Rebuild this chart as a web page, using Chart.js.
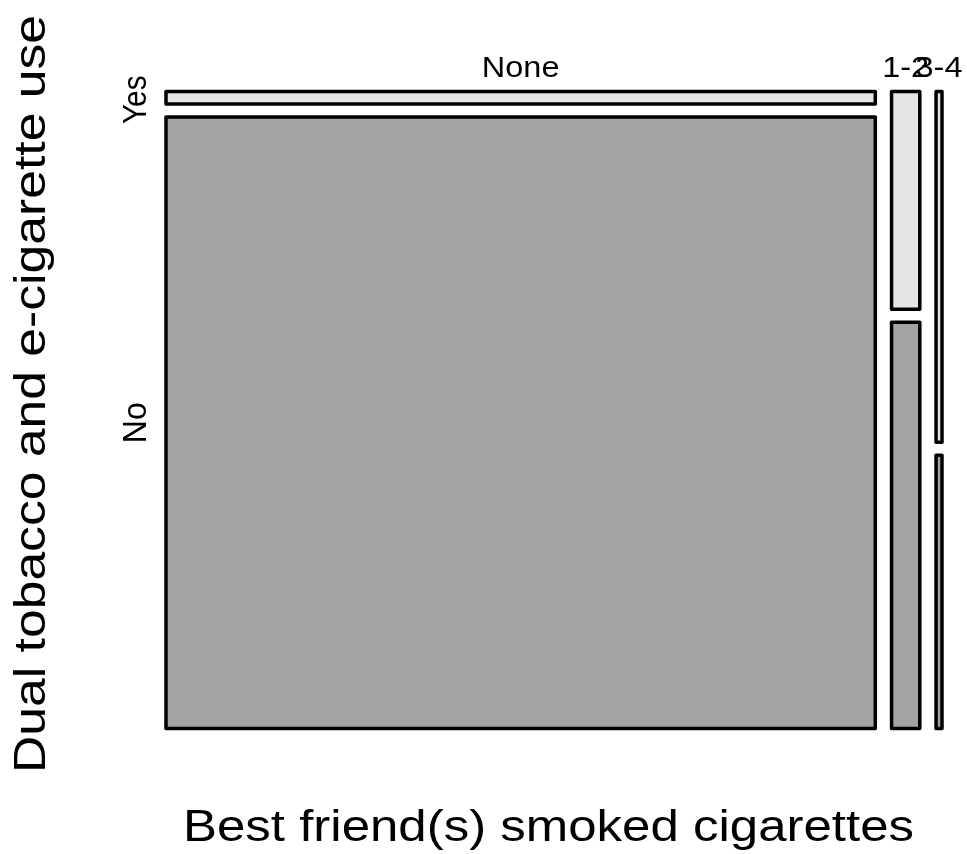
<!DOCTYPE html>
<html>
<head>
<meta charset="utf-8">
<script src="https://cdn.jsdelivr.net/npm/chart.js@4"></script>
<style>
  body { margin: 0; background: #fff; }
  canvas { display: block; }
</style>
</head>
<body>
<canvas id="mosaic" width="967" height="854"></canvas>
<script>
// mosaic data
const friendLevels = ["None", "1-2", "3-4"];
const useLevels = ["Yes", "No"];
const columnShare = [0.954, 0.038, 0.008];
const yesShare = [0.020, 0.349, 0.562];
const noShare = [0.980, 0.651, 0.438];

const xTitle = "Best friend(s) smoked cigarettes";
const yTitle = "Dual tobacco and e-cigarette use";

const gapX = 16.25 / 776;
const gapY = 13 / 637;
const fillColors = { Yes: "#e5e5e5", No: "#a3a3a3" };

function rectPoints(x0, x1, y0, y1) {
    return [
        { x: x0, y: y0 },
        { x: x1, y: y0 },
        { x: x1, y: y1 },
        { x: x0, y: y1 },
        { x: x0, y: y0 },
    ];
}

var columns = [];
var datasets = [];
var xStart = 0;
for (let i = 0; i < friendLevels.length; i++) {
    const w = columnShare[i] * (1 - 2 * gapX);
    const x0 = xStart;
    const x1 = xStart + w;
    columns.push({ x0: x0, x1: x1 });
    xStart = x1 + gapX;

    const yesTop = 1;
    const yesBottom = 1 - yesShare[i] * (1 - gapY);
    const noTop = noShare[i] * (1 - gapY);

    datasets.push({
        label: friendLevels[i] + " / Yes",
        data: rectPoints(x0, x1, yesBottom, yesTop),
        backgroundColor: fillColors.Yes,
    });
    datasets.push({
        label: friendLevels[i] + " / No",
        data: rectPoints(x0, x1, 0, noTop),
        backgroundColor: fillColors.No,
    });
}
datasets.forEach((ds) => {
    ds.showLine = true;
    ds.fill = "shape";
    ds.borderColor = "#000";
    ds.borderWidth = 3.5;
    ds.borderJoinStyle = "round";
    ds.borderCapStyle = "round";
    ds.pointRadius = 0;
    ds.tension = 0;
    ds.clip = false;
});

// draw text scaled in screen space (sx, sy), rot in radians
function drawText(ctx, text, x, y, rot, fontPx, sx, sy, align) {
    ctx.save();
    ctx.translate(x, y);
    ctx.scale(sx, sy);
    ctx.rotate(rot);
    ctx.font = fontPx + 'px "Liberation Sans", Arial, sans-serif';
    ctx.fillStyle = "#000";
    ctx.textAlign = align || "center";
    ctx.textBaseline = "alphabetic";
    ctx.fillText(text, 0, 0);
    ctx.restore();
}

// fit a string into a given length along its reading direction
function fitLength(ctx, text, fontPx, target) {
    ctx.save();
    ctx.font = fontPx + 'px "Liberation Sans", Arial, sans-serif';
    const w = ctx.measureText(text).width;
    ctx.restore();
    return target / w;
}

const labelsPlugin = {
    id: "mosaicLabels",
    afterDraw(chart) {
        const ctx = chart.ctx;
        const xs = chart.scales.x;
        const ys = chart.scales.y;
        const tickFont = 29;
        const tickSX = 1.12;

        // column labels on top
        for (let i = 0; i < friendLevels.length; i++) {
            const cx = xs.getPixelForValue((columns[i].x0 + columns[i].x1) / 2);
            drawText(ctx, friendLevels[i], cx, 77, 0, tickFont, tickSX, 1);
        }

        // row labels for first column
        const yesMid = 1 - yesShare[0] * (1 - gapY) / 2;
        const noMid = noShare[0] * (1 - gapY) / 2;
        drawText(ctx, useLevels[0], 146, ys.getPixelForValue(yesMid) + 2, -Math.PI / 2, tickFont, tickSX, 1.03);
        drawText(ctx, useLevels[1], 146, ys.getPixelForValue(noMid), -Math.PI / 2, tickFont, tickSX, 1.1);

        // axis titles
        const titleFont = 44;
        drawText(ctx, xTitle, 548.5, 841, 0, titleFont, fitLength(ctx, xTitle, titleFont, 731), 1);
        drawText(ctx, yTitle, 45, 394, -Math.PI / 2, titleFont, 1, fitLength(ctx, yTitle, titleFont, 758));
    },
};

new Chart(document.getElementById("mosaic"), {
    type: "scatter",
    data: { datasets: datasets },
    options: {
        responsive: false,
        animation: false,
        layout: {
            padding: { left: 166, right: 25, top: 91.5, bottom: 125.5 },
        },
        scales: {
            x: { type: "linear", min: 0, max: 1, display: false },
            y: { type: "linear", min: 0, max: 1, display: false },
        },
        plugins: {
            legend: { display: false },
            tooltip: { enabled: false },
        },
    },
    plugins: [labelsPlugin],
});
</script>
</body>
</html>
